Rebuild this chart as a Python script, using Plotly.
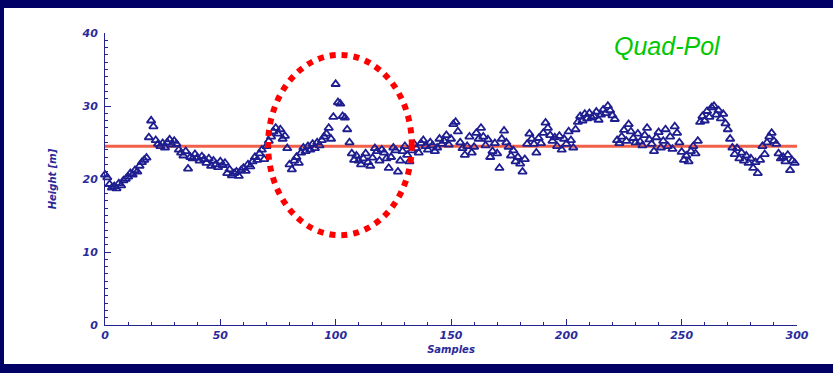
import plotly.graph_objects as go

samples = list(range(300))
heights = [
    20.6, 20.2, 19.3, 18.8, 19.0, 18.7, 19.4, 19.1, 19.8, 20.0,
    20.3, 20.8, 20.6, 21.2, 21.0, 21.8, 22.3, 22.6, 22.9, 25.7,
    28.0, 27.2, 25.3, 24.8, 24.5, 24.9, 24.3, 25.0, 25.4, 24.7,
    25.2, 24.8, 24.0, 23.6, 23.2, 23.8, 21.4, 23.0, 22.8, 23.4,
    22.9, 22.5, 23.1, 22.7, 22.2, 22.8, 21.8, 22.5, 22.0, 21.6,
    22.4, 21.9, 22.2, 20.8, 21.3, 20.5, 20.8, 21.0, 20.4, 21.2,
    21.5, 21.1, 22.0, 21.7, 22.4, 23.0, 22.6, 23.5, 24.0, 22.7,
    24.5, 25.2, 25.8, 26.5, 27.0, 26.2, 26.8, 25.5, 25.9, 24.2,
    22.0, 21.3, 22.5, 23.0, 22.2, 23.6, 24.3, 23.8, 24.5, 24.0,
    24.8, 24.2, 25.0, 24.6, 25.3, 25.8, 26.2, 27.0, 25.5, 28.5,
    33.0, 30.5, 30.3, 28.6, 28.4, 26.8, 25.0, 23.5, 22.6, 23.2,
    22.5, 22.0, 22.8, 23.5, 22.3, 21.8, 22.9, 24.2, 23.8, 22.5,
    24.0, 23.6, 22.8, 21.5, 23.0, 24.3, 23.9, 21.0, 22.5, 23.8,
    24.5, 23.3, 22.4, 23.9, 24.8, 24.2, 23.6, 24.9, 25.3, 24.5,
    24.0, 25.0, 24.6, 23.8, 24.3, 25.5, 24.8, 25.2, 26.0, 24.7,
    25.5, 27.5, 27.8, 26.5, 25.0, 24.2, 23.3, 24.5, 25.8, 23.6,
    24.4, 26.3, 25.5, 27.0, 25.8, 24.6, 25.4, 23.0, 23.8, 24.9,
    23.5, 21.5, 25.5, 26.6, 25.0, 24.4, 23.2, 23.9, 22.4, 23.0,
    22.1, 21.0, 22.7, 24.8, 26.2, 25.5, 24.8, 23.6, 25.6, 24.9,
    26.3, 27.7, 27.0, 26.0, 25.2, 25.7, 24.5, 25.9, 24.0, 25.5,
    24.8, 26.5, 25.3, 24.3, 26.8, 27.8, 28.6, 28.0, 28.9, 28.3,
    29.0, 28.4, 28.6, 29.2, 28.1, 28.8, 29.5, 29.0, 30.0, 29.4,
    28.7, 28.2, 25.3, 24.9, 25.8, 26.7, 25.2, 27.5, 26.5, 25.6,
    25.0, 26.2, 25.1, 24.6, 26.0, 27.0, 25.4, 24.8, 23.8, 25.7,
    26.4, 24.3, 25.2, 26.8, 24.5, 25.8, 24.1, 27.2, 26.3, 25.0,
    23.7, 22.6, 23.2, 22.4, 23.8, 24.5, 23.5, 25.2, 27.8, 28.6,
    28.0, 29.3, 28.5, 29.8, 30.0, 28.8, 29.4, 28.3, 28.9, 27.6,
    26.8, 25.5, 24.3, 23.4, 24.2, 22.8, 23.6, 22.5, 23.2, 22.2,
    22.8, 21.5, 22.3, 20.8, 22.6, 24.5, 23.4, 25.0, 25.8, 26.3,
    25.2, 24.8, 23.5, 22.8, 23.0, 22.4, 23.3, 21.2, 22.5, 22.2,
]
mean_height = 24.5
mean_span = [0, 300]
x_ticks = [0, 50, 100, 150, 200, 250, 300]
y_ticks = [0, 10, 20, 30, 40]
highlight_x = [70.7, 133.0]
highlight_y = [12.3, 37.0]
label_text = "Quad-Pol"

navy = "#24248f"
frame = "#000066"
tick_font = dict(family="DejaVu Sans", size=11, color="#2a2a9a", weight="bold", style="italic")

fig = go.Figure()
fig.add_trace(go.Scatter(
    x=mean_span, y=[mean_height, mean_height], mode="lines",
    line=dict(color="#f0604a", width=3), showlegend=False, hoverinfo="skip",
))
fig.add_trace(go.Scatter(
    x=samples, y=heights, mode="markers",
    marker=dict(symbol="triangle-up-open", size=7.5, color="#1e1e90", line=dict(width=1.8)),
    showlegend=False, cliponaxis=False,
))

# navy frame around the white panel
W, H = 833, 373
L, R, T, B = 105, 36, 33, 48
pw, ph = W - L - R, H - T - B
def px(x):
    return (x - L) / pw
def py(y):
    return (H - B - y) / ph

for (ax0, ay0, ax1, ay1) in [(-5, -5, W + 5, 8), (-5, 364, W + 5, H + 5), (-5, -5, 4, H + 5)]:
    fig.add_shape(type="rect", xref="paper", yref="paper",
                  x0=px(ax0), x1=px(ax1), y0=py(ay1), y1=py(ay0),
                  fillcolor=frame, line=dict(width=0), layer="below")

fig.add_shape(type="circle", xref="x", yref="y",
              x0=highlight_x[0], x1=highlight_x[1], y0=highlight_y[0], y1=highlight_y[1],
              line=dict(color="#ff0000", width=6, dash="dot"), layer="above")

fig.add_annotation(x=244, y=38.2, xref="x", yref="y", text=label_text, showarrow=False,
                   font=dict(family="Liberation Sans Narrow, Liberation Sans, Arial", size=25,
                             color="#00c800", style="italic"))

fig.update_layout(
    width=W, height=H,
    margin=dict(l=L, r=R, t=T, b=B, pad=0, autoexpand=False),
    paper_bgcolor="white",
    plot_bgcolor="white",
    xaxis=dict(range=[0, 300], tickvals=x_ticks, ticks="inside", ticklen=6, tickwidth=1,
               tickcolor=navy, showline=True, linecolor=navy, linewidth=1, showgrid=False,
               zeroline=False, tickfont=tick_font, automargin=False,
               minor=dict(dtick=10, ticks="inside", ticklen=3, tickcolor=navy, showgrid=False),
               title=dict(text="Samples", font=dict(family="DejaVu Sans", size=10, color="#2a2a9a",
                                                    weight="bold", style="italic"), standoff=4)),
    yaxis=dict(range=[0, 40], tickvals=y_ticks, ticks="inside", ticklen=6, tickwidth=1,
               tickcolor=navy, showline=True, linecolor=navy, linewidth=1, showgrid=False,
               zeroline=False, tickfont=tick_font, ticklabelstandoff=4, automargin=False,
               minor=dict(dtick=1, ticks="inside", ticklen=3, tickcolor=navy, showgrid=False),
               title=dict(text="Height [m]", font=dict(family="DejaVu Sans", size=10, color="#2a2a9a",
                                                       weight="bold", style="italic"), standoff=22)),
)

fig.write_html(
    "out.html", config={"displayModeBar": False},
    post_script=("document.documentElement.style.margin='0';"
                 "document.documentElement.style.overflow='hidden';"
                 "document.body.style.margin='0';document.body.style.overflow='hidden';"),
)
